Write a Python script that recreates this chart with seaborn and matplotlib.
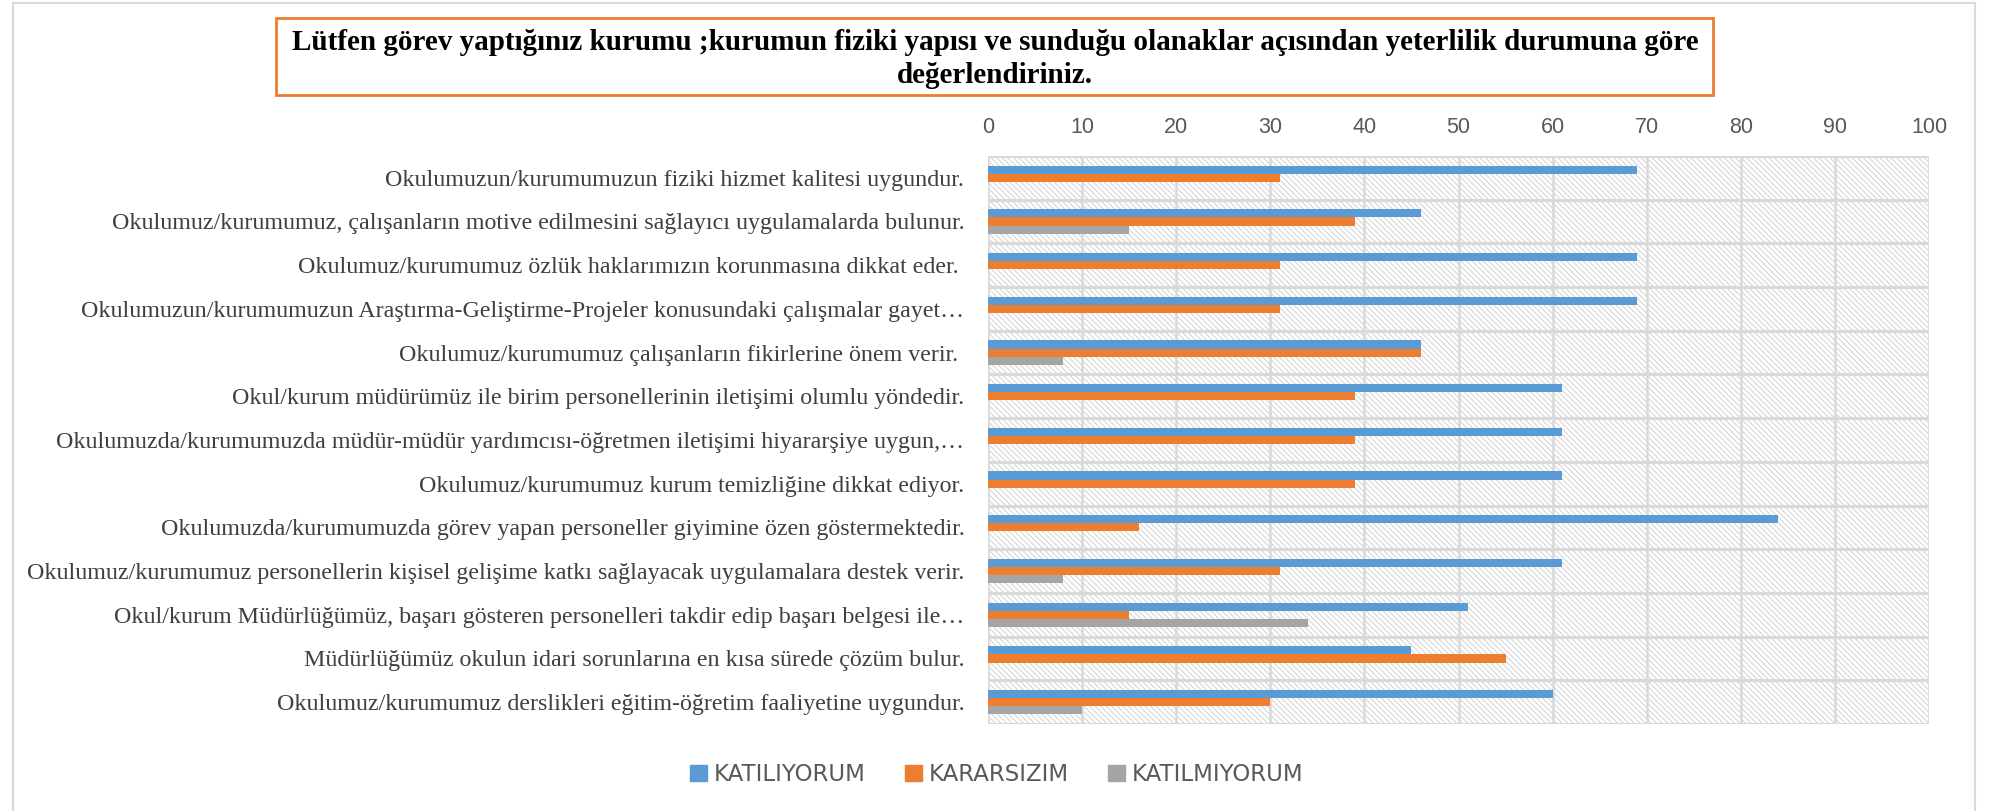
import numpy as np
import pandas as pd
import matplotlib
matplotlib.use("Agg")
import matplotlib.pyplot as plt
from matplotlib.patches import Rectangle
import seaborn as sns

# %% veri
sorular = [
    "Okulumuzun/kurumumuzun fiziki hizmet kalitesi uygundur.",
    "Okulumuz/kurumumuz, çalışanların motive edilmesini sağlayıcı uygulamalarda bulunur.",
    "Okulumuz/kurumumuz özlük haklarımızın korunmasına dikkat eder. ",
    "Okulumuzun/kurumumuzun Araştırma-Geliştirme-Projeler konusundaki çalışmalar gayet…",
    "Okulumuz/kurumumuz çalışanların fikirlerine önem verir. ",
    "Okul/kurum müdürümüz ile birim personellerinin iletişimi olumlu yöndedir.",
    "Okulumuzda/kurumumuzda müdür-müdür yardımcısı-öğretmen iletişimi hiyararşiye uygun,…",
    "Okulumuz/kurumumuz kurum temizliğine dikkat ediyor.",
    "Okulumuzda/kurumumuzda görev yapan personeller giyimine özen göstermektedir.",
    "Okulumuz/kurumumuz personellerin kişisel gelişime katkı sağlayacak uygulamalara destek verir.",
    "Okul/kurum Müdürlüğümüz, başarı gösteren personelleri takdir edip başarı belgesi ile…",
    "Müdürlüğümüz okulun idari sorunlarına en kısa sürede çözüm bulur.",
    "Okulumuz/kurumumuz derslikleri eğitim-öğretim faaliyetine uygundur.",
]
katiliyorum = [69, 46, 69, 69, 46, 61, 61, 61, 84, 61, 51, 45, 60]
kararsizim = [31, 39, 31, 31, 46, 39, 39, 39, 16, 31, 15, 55, 30]
katilmiyorum = [0, 15, 0, 0, 8, 0, 0, 0, 0, 8, 34, 0, 10]
yanitlar = ["KATILIYORUM", "KARARSIZIM", "KATILMIYORUM"]
renkler = ["#5B9BD5", "#ED7D31", "#A5A5A5"]
x_ticks = list(range(0, 101, 10))

baslik1 = "Lütfen görev yaptığınız kurumu ;kurumun fiziki yapısı ve sunduğu olanaklar açısından yeterlilik durumuna göre"
baslik2 = "değerlendiriniz."

veri = pd.DataFrame({
    "soru": sorular * 3,
    "deger": katiliyorum + kararsizim + katilmiyorum,
    "yanit": [y for y in yanitlar for _ in sorular],
})

# %% grafik
plt.rcParams["hatch.color"] = "#d6d6d6"
plt.rcParams["hatch.linewidth"] = 0.8

fig = plt.figure(figsize=(20, 8.11), dpi=100)
ax = fig.add_axes([0.494, 0.1073, 0.4705, 0.7004])

# tarali arka plan
ax.add_patch(Rectangle((0, 0), 1, 1, transform=ax.transAxes, facecolor="white",
                       edgecolor="#d6d6d6", hatch="\\" * 6, linewidth=0, zorder=0))

sns.barplot(data=veri, y="soru", x="deger", hue="yanit", hue_order=yanitlar,
            orient="h", palette=renkler, width=0.56, saturation=1,
            legend=False, ax=ax, zorder=3)

ax.set_xlim(0, 100)
ax.set_ylim(len(sorular) - 0.5, -0.5)
ax.set_xticks(x_ticks)
ax.xaxis.tick_top()
ax.tick_params(axis="x", length=0, labelsize=15.5, labelcolor="#595959", pad=13)
ax.tick_params(axis="y", length=0, labelsize=17.3, labelcolor="#404040", pad=17)
for t in ax.get_yticklabels():
    t.set_fontfamily("Liberation Serif")
for t in ax.get_xticklabels():
    t.set_fontfamily("Liberation Sans")
ax.set_xlabel("")
ax.set_ylabel("")

# izgara
ax.set_yticks(np.arange(-0.5, len(sorular), 1), minor=True)
ax.tick_params(axis="y", which="minor", length=0)
ax.grid(axis="x", which="major", color="#d9d9d9", linewidth=1.8, zorder=1)
ax.grid(axis="y", which="minor", color="#d9d9d9", linewidth=2.2, zorder=1)
ax.set_axisbelow(True)
for s in ax.spines.values():
    s.set_visible(False)

# baslik kutusu
fig.patches.append(Rectangle((0.138, 0.8829), 0.7185, 0.0949, transform=fig.transFigure,
                             facecolor="white", edgecolor="#ED7D31", linewidth=2))
fig.text(0.4975, 0.947, baslik1, ha="center", va="center", fontsize=21,
         fontweight="bold", family="Liberation Serif")
fig.text(0.4975, 0.907, baslik2, ha="center", va="center", fontsize=21,
         fontweight="bold", family="Liberation Serif")

# dis cerceve
fig.patches.append(Rectangle((0.0065, -0.01), 0.981, 1.0063, transform=fig.transFigure,
                             facecolor="none", edgecolor="#d9d9d9", linewidth=1.5))

# lejant
tutamac = [Rectangle((0, 0), 1, 1, color=r) for r in renkler]
fig.legend(tutamac, yanitlar, loc="center", bbox_to_anchor=(0.4985, 0.045), ncol=3,
           frameon=False, fontsize=16.5, handlelength=0.75, handleheight=0.75,
           columnspacing=1.7, handletextpad=0.3, labelcolor="#595959")

fig.savefig("out.png", dpi=100)
